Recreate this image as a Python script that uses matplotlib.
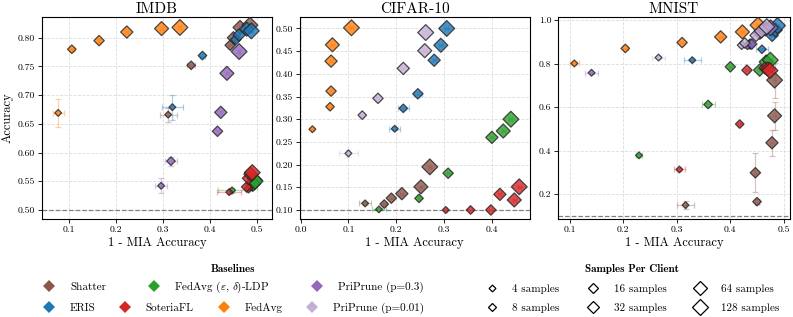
import numpy as np
import matplotlib
matplotlib.use("Agg")
import matplotlib.pyplot as plt
from matplotlib.lines import Line2D
from matplotlib.font_manager import FontProperties

plt.rcParams['font.family'] = 'serif'
plt.rcParams['font.serif'] = ['cmr10', 'DejaVu Serif']
plt.rcParams['mathtext.fontset'] = 'cm'
plt.rcParams['axes.formatter.use_mathtext'] = True
plt.rcParams['axes.unicode_minus'] = False

SAMPLES = [4, 8, 16, 32, 64, 128]
METHODS = ['Shatter', 'ERIS', 'LDP', 'SoteriaFL', 'FedAvg', 'PriPrune03', 'PriPrune001']
LABELS = {'Shatter': 'Shatter', 'ERIS': 'ERIS', 'LDP': r'FedAvg ($\varepsilon$, $\delta$)-LDP',
          'SoteriaFL': 'SoteriaFL', 'FedAvg': 'FedAvg',
          'PriPrune03': 'PriPrune (p=0.3)', 'PriPrune001': 'PriPrune (p=0.01)'}
COLORS = {'Shatter': '#8c564b', 'ERIS': '#1f77b4', 'LDP': '#2ca02c', 'SoteriaFL': '#d62728',
          'FedAvg': '#ff7f0e', 'PriPrune03': '#9467bd', 'PriPrune001': '#c5b0d5'}

# IMDB  (x = 1 - MIA accuracy, y = accuracy), one value per sample size
imdb_x = {'FedAvg': [0.077, 0.106, 0.164, 0.223, 0.297, 0.336],
          'Shatter': [0.311, 0.360, 0.443, 0.450, 0.464, 0.485],
          'ERIS': [0.320, 0.384, 0.455, 0.462, 0.478, 0.488],
          'PriPrune03': [0.296, 0.317, 0.416, 0.423, 0.436, 0.462],
          'LDP': [0.447, 0.490, 0.495, 0.498, 0.492, 0.496],
          'SoteriaFL': [0.441, 0.482, 0.478, 0.482, 0.487, 0.490]}
imdb_y = {'FedAvg': [0.669, 0.780, 0.795, 0.810, 0.816, 0.818],
          'Shatter': [0.666, 0.752, 0.787, 0.800, 0.818, 0.822],
          'ERIS': [0.679, 0.769, 0.797, 0.805, 0.815, 0.812],
          'PriPrune03': [0.542, 0.585, 0.637, 0.670, 0.738, 0.776],
          'LDP': [0.534, 0.540, 0.548, 0.552, 0.545, 0.550],
          'SoteriaFL': [0.531, 0.537, 0.540, 0.555, 0.562, 0.565]}
imdb_xerr = {'FedAvg': [0.012, 0.005, 0.003, 0.003, 0.003, 0.003],
             'Shatter': [0.018, 0.009, 0.003, 0.002, 0.002, 0.002],
             'ERIS': [0.023, 0.005, 0.003, 0.002, 0.002, 0.002],
             'PriPrune03': [0.013, 0.012, 0.003, 0.003, 0.002, 0.002],
             'LDP': [0.030, 0.010, 0.003, 0.003, 0.002, 0.002],
             'SoteriaFL': [0.025, 0.004, 0.003, 0.003, 0.002, 0.002]}
imdb_yerr = {'FedAvg': [0.025, 0.003, 0.002, 0.002, 0.002, 0.002],
             'Shatter': [0.012, 0.003, 0.002, 0.002, 0.002, 0.002],
             'ERIS': [0.022, 0.003, 0.002, 0.002, 0.002, 0.002],
             'PriPrune03': [0.013, 0.008, 0.003, 0.003, 0.002, 0.002],
             'LDP': [0.004, 0.003, 0.002, 0.002, 0.002, 0.002],
             'SoteriaFL': [0.004, 0.003, 0.002, 0.002, 0.002, 0.002]}

# CIFAR-10
cifar_x = {'FedAvg': [0.0245, 0.0615, 0.0636, 0.0636, 0.0664, 0.1063],
           'ERIS': [0.197, 0.215, 0.2455, 0.2797, 0.2937, 0.306],
           'PriPrune001': [0.100, 0.129, 0.162, 0.215, 0.260, 0.262],
           'Shatter': [0.135, 0.175, 0.190, 0.212, 0.252, 0.2706],
           'LDP': [0.164, 0.248, 0.309, 0.4007, 0.4245, 0.4406],
           'SoteriaFL': [0.304, 0.356, 0.3986, 0.4175, 0.4476, 0.458]}
cifar_y = {'FedAvg': [0.278, 0.3275, 0.362, 0.428, 0.464, 0.5015],
           'ERIS': [0.279, 0.324, 0.356, 0.430, 0.463, 0.500],
           'PriPrune001': [0.2247, 0.309, 0.346, 0.412, 0.451, 0.491],
           'Shatter': [0.1145, 0.113, 0.126, 0.136, 0.151, 0.195],
           'LDP': [0.1013, 0.1256, 0.181, 0.260, 0.274, 0.300],
           'SoteriaFL': [0.100, 0.100, 0.100, 0.1344, 0.122, 0.151]}
cifar_xerr = {'FedAvg': [0.003, 0.003, 0.003, 0.003, 0.003, 0.003],
              'ERIS': [0.011, 0.012, 0.008, 0.003, 0.003, 0.003],
              'PriPrune001': [0.020, 0.004, 0.004, 0.005, 0.005, 0.005],
              'Shatter': [0.013, 0.003, 0.003, 0.003, 0.003, 0.003],
              'LDP': [0.014, 0.003, 0.003, 0.003, 0.003, 0.003],
              'SoteriaFL': [0.003, 0.003, 0.003, 0.003, 0.003, 0.003]}
cifar_yerr = {'FedAvg': [0.002, 0.002, 0.002, 0.002, 0.002, 0.002],
              'ERIS': [0.003, 0.003, 0.003, 0.002, 0.002, 0.002],
              'PriPrune001': [0.008, 0.003, 0.003, 0.003, 0.003, 0.003],
              'Shatter': [0.003, 0.002, 0.002, 0.002, 0.002, 0.002],
              'LDP': [0.002, 0.002, 0.002, 0.002, 0.002, 0.002],
              'SoteriaFL': [0.001, 0.001, 0.001, 0.002, 0.002, 0.002]}

# MNIST
mnist_x = {'FedAvg': [0.109, 0.204, 0.310, 0.382, 0.4225, 0.4516],
           'PriPrune03': [0.141, 0.432, 0.440, 0.455, 0.465, 0.475],
           'PriPrune001': [0.266, 0.421, 0.427, 0.448, 0.458, 0.468],
           'ERIS': [0.329, 0.459, 0.437, 0.478, 0.484, 0.488],
           'LDP': [0.2296, 0.3586, 0.400, 0.4547, 0.467, 0.4746],
           'SoteriaFL': [0.305, 0.4175, 0.431, 0.465, 0.470, 0.474],
           'Shatter': [0.3164, 0.4498, 0.4467, 0.4777, 0.4826, 0.4826]}
mnist_y = {'FedAvg': [0.801, 0.870, 0.897, 0.923, 0.946, 0.977],
           'PriPrune03': [0.758, 0.884, 0.890, 0.940, 0.960, 0.965],
           'PriPrune001': [0.828, 0.885, 0.895, 0.930, 0.950, 0.970],
           'ERIS': [0.816, 0.866, 0.890, 0.930, 0.955, 0.975],
           'LDP': [0.378, 0.612, 0.7855, 0.770, 0.808, 0.816],
           'SoteriaFL': [0.313, 0.522, 0.770, 0.780, 0.775, 0.768],
           'Shatter': [0.149, 0.165, 0.298, 0.436, 0.560, 0.724]}
mnist_xerr = {'FedAvg': [0.008, 0.005, 0.003, 0.003, 0.003, 0.003],
              'PriPrune03': [0.012, 0.003, 0.003, 0.003, 0.003, 0.003],
              'PriPrune001': [0.013, 0.005, 0.003, 0.003, 0.003, 0.003],
              'ERIS': [0.016, 0.012, 0.003, 0.003, 0.003, 0.003],
              'LDP': [0.005, 0.012, 0.003, 0.003, 0.003, 0.003],
              'SoteriaFL': [0.010, 0.003, 0.003, 0.003, 0.003, 0.003],
              'Shatter': [0.016, 0.003, 0.003, 0.003, 0.003, 0.003]}
mnist_yerr = {'FedAvg': [0.005, 0.004, 0.004, 0.004, 0.004, 0.004],
              'PriPrune03': [0.005, 0.004, 0.004, 0.004, 0.004, 0.004],
              'PriPrune001': [0.008, 0.004, 0.004, 0.004, 0.004, 0.004],
              'ERIS': [0.005, 0.004, 0.004, 0.004, 0.004, 0.004],
              'LDP': [0.008, 0.006, 0.004, 0.004, 0.004, 0.004],
              'SoteriaFL': [0.008, 0.006, 0.004, 0.004, 0.004, 0.004],
              'Shatter': [0.020, 0.010, 0.090, 0.060, 0.065, 0.080]}

# scatter marker area for each sample size
SIZES = [12, 19, 28, 39, 51, 65]


def draw_panel(ax, xs, ys, xe, ye, title, baseline, xlim, ylim, xticks, yticks, yfmt):
    for m in METHODS:
        if m not in xs:
            continue
        c = COLORS[m]
        ax.errorbar(xs[m], ys[m], xerr=xe[m], yerr=ye[m], fmt='none', ecolor=c,
                    alpha=0.35, elinewidth=0.9, capsize=2, capthick=0.9, zorder=2)
        ax.scatter(xs[m], ys[m], s=SIZES, marker='D', color=c, alpha=0.8,
                   edgecolors='#222222', linewidths=0.9, zorder=3)
    ax.axhline(baseline, color='gray', ls='--', lw=0.9, zorder=1)
    ax.set_xlim(*xlim)
    ax.set_ylim(*ylim)
    ax.set_xticks(xticks)
    ax.set_yticks(yticks)
    ax.set_xticklabels(['%.1f' % t for t in xticks])
    ax.set_yticklabels([yfmt % t for t in yticks])
    ax.grid(True, ls='--', color='#dddddd', lw=0.6, zorder=0)
    ax.set_axisbelow(True)
    ax.tick_params(labelsize=7, length=3, width=0.6, pad=2)
    ax.set_title(title, fontsize=11, pad=3)
    ax.set_xlabel('1 - MIA Accuracy', fontsize=9, labelpad=2)
    for sp in ax.spines.values():
        sp.set_linewidth(0.8)


fig = plt.figure(figsize=(7.93, 3.17), dpi=100)
ax1 = fig.add_axes([0.053, 0.309, 0.290, 0.637])
ax2 = fig.add_axes([0.378, 0.309, 0.290, 0.637])
ax3 = fig.add_axes([0.704, 0.309, 0.292, 0.637])

draw_panel(ax1, imdb_x, imdb_y, imdb_xerr, imdb_yerr, 'IMDB', 0.5,
           (0.0426, 0.532), (0.484, 0.836), [0.1, 0.2, 0.3, 0.4, 0.5],
           np.arange(0.50, 0.801, 0.05), '%.2f')
draw_panel(ax2, cifar_x, cifar_y, cifar_xerr, cifar_yerr, 'CIFAR-10', 0.1,
           (-0.002, 0.48), (0.080, 0.525), [0.0, 0.1, 0.2, 0.3, 0.4],
           np.arange(0.10, 0.501, 0.05), '%.2f')
draw_panel(ax3, mnist_x, mnist_y, mnist_xerr, mnist_yerr, 'MNIST', 0.1,
           (0.079, 0.511), (0.085, 1.014), [0.1, 0.2, 0.3, 0.4, 0.5],
           [0.2, 0.4, 0.6, 0.8, 1.0], '%.1f')
ax1.set_ylabel('Accuracy', fontsize=9, labelpad=3)

# baselines legend, laid out as two rows
def base_handle(m):
    return Line2D([], [], marker='D', ls='none', color=COLORS[m], markersize=6,
                  markeredgewidth=0)

row1 = ['Shatter', 'LDP', 'PriPrune03']
row2 = ['ERIS', 'SoteriaFL', 'FedAvg', 'PriPrune001']
bold = FontProperties(family='cmb10', size=8)
leg1 = fig.legend([base_handle(m) for m in row1], [LABELS[m] for m in row1], ncol=3,
                  loc='upper center', bbox_to_anchor=(0.294, 0.198), frameon=False, fontsize=8,
                  title='Baselines', title_fontproperties=bold,
                  handletextpad=1.25, columnspacing=3.7, handlelength=1.2)
leg1b = fig.legend([base_handle(m) for m in row2], [LABELS[m] for m in row2], ncol=4,
                   loc='upper center', bbox_to_anchor=(0.294, 0.077), frameon=False, fontsize=8,
                   handletextpad=1.25, columnspacing=2.1, handlelength=1.2)

size_handles = [Line2D([], [], marker='D', ls='none', markerfacecolor='white',
                       markeredgecolor='black', markeredgewidth=0.9, markersize=np.sqrt(s))
                for s in SIZES]
size_labels = ['%d samples' % n for n in SAMPLES]
leg2 = fig.legend(size_handles, size_labels, ncol=3, loc='upper center',
                  bbox_to_anchor=(0.797, 0.198), frameon=False, fontsize=8,
                  title='Samples Per Client', title_fontproperties=bold,
                  handletextpad=1.25, columnspacing=2.45, labelspacing=0.85, handlelength=1.2)

fig.savefig('out.png', dpi=100)
